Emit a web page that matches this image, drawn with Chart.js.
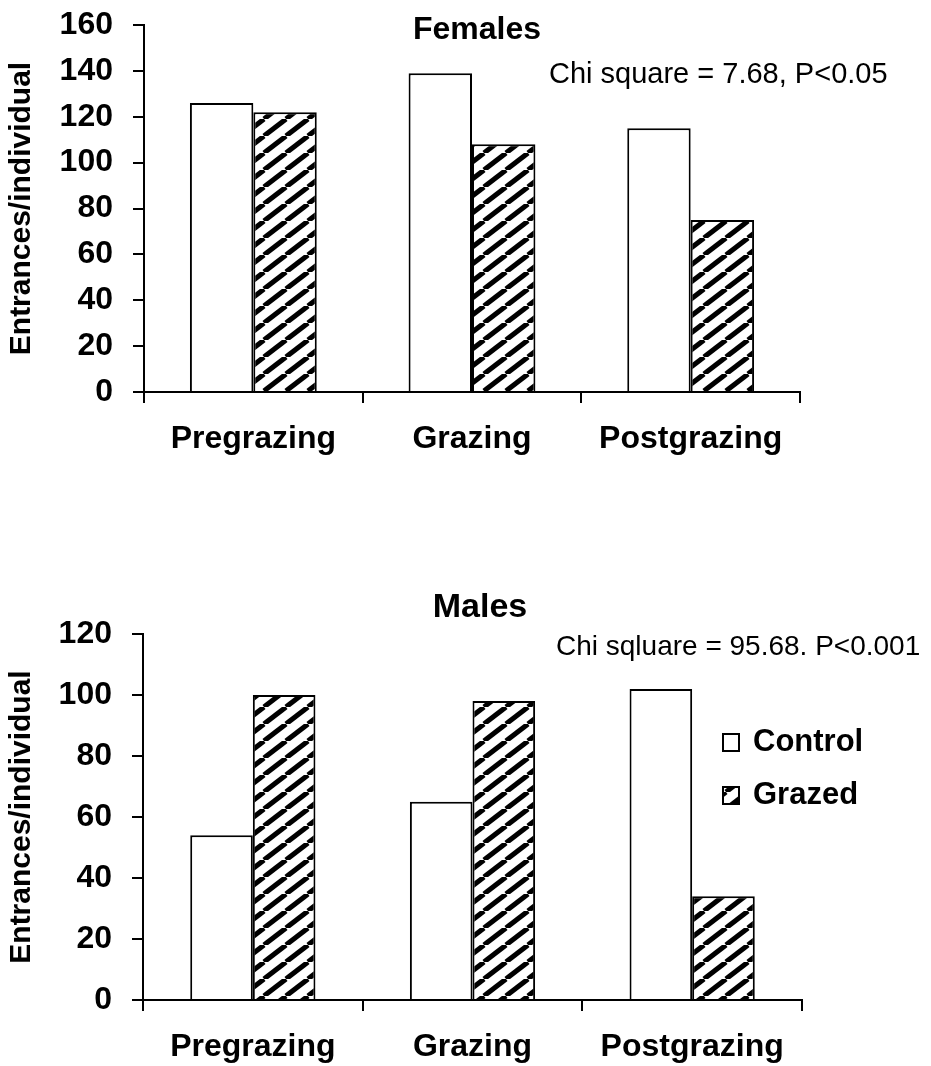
<!DOCTYPE html>
<html>
<head>
<meta charset="utf-8">
<title>Entrances per individual</title>
<script src="https://cdn.jsdelivr.net/npm/chart.js@4.4.1/dist/chart.umd.min.js"></script>
<style>
  html, body { margin: 0; padding: 0; background: #fff; }
  #wrap { position: relative; width: 931px; height: 1066px; }
  canvas { position: absolute; left: 0; }
</style>
</head>
<body>
<div id="wrap">
  <canvas id="femaleChart" width="931" height="520" style="top:0"></canvas>
  <canvas id="maleChart" width="931" height="546" style="top:520px"></canvas>
</div>
<script>
// data
const periods = ['Pregrazing', 'Grazing', 'Postgrazing'];
const seriesNames = ['Control', 'Grazed'];
const femaleControl = [126, 139, 115];
const femaleGrazed = [122, 108, 75];
const maleControl = [54, 65, 102];
const maleGrazed = [100, 98, 34];
const femaleAxisMax = 160;
const maleAxisMax = 120;
const tickStep = 20;
const yTitle = 'Entrances/individual';
const femaleTitle = 'Females';
const femaleStat = 'Chi square = 7.68, P<0.05';
const maleTitle = 'Males';
const maleStat = 'Chi sqluare = 95.68. P<0.001';

const FONT = '"Liberation Sans", Arial, sans-serif';
Chart.defaults.font.family = FONT;
Chart.defaults.color = '#000';

// diagonal hatch for the grazed bars
function makeHatch() {
    const w = 22, h = 17;
    const tile = document.createElement('canvas');
    tile.width = w;
    tile.height = h;
    const c = tile.getContext('2d');
    c.fillStyle = '#fff';
    c.fillRect(0, 0, w, h);
    c.strokeStyle = '#000';
    c.lineWidth = 5;
    [-w, 0, w].forEach(x0 => {
        c.beginPath();
        c.moveTo(x0, h);
        c.lineTo(x0 + w, 0);
        c.stroke();
    });
    return c.createPattern(tile, 'repeat');
}
const hatch = makeHatch();

// title, chi square note and (optional) legend
const panelText = {
    id: 'panelText',
    afterDraw(chart, args, opts) {
        const ctx = chart.ctx;
        ctx.save();
        ctx.fillStyle = '#000';
        ctx.textBaseline = 'middle';
        ctx.textAlign = 'center';
        ctx.font = 'bold ' + opts.titleSize + 'px ' + FONT;
        ctx.fillText(opts.title, opts.titleX, opts.titleY);
        ctx.textAlign = 'left';
        ctx.font = opts.statSize + 'px ' + FONT;
        ctx.fillText(opts.stat, opts.statX, opts.statY);
        if (opts.legend) {
            ctx.font = 'bold 31px ' + FONT;
            chart.data.datasets.forEach((ds, i) => {
                const y = opts.legendY + i * 53;
                ctx.fillStyle = ds.backgroundColor;
                ctx.fillRect(opts.legendX, y - 8, 16, 17);
                ctx.strokeStyle = '#000';
                ctx.lineWidth = 2;
                ctx.strokeRect(opts.legendX, y - 8, 16, 17);
                ctx.fillStyle = '#000';
                ctx.fillText(ds.label, opts.legendX + 30, y);
            });
        }
        ctx.restore();
    }
};

function makeChart(id, control, grazed, yMax, area, text) {
    const ctx = document.getElementById(id).getContext('2d');
    return new Chart(ctx, {
        type: 'bar',
        data: {
            labels: periods,
            datasets: [
                { label: seriesNames[0], data: control, backgroundColor: '#fff' },
                { label: seriesNames[1], data: grazed, backgroundColor: hatch }
            ]
        },
        options: {
            responsive: false,
            animation: false,
            devicePixelRatio: 1,
            layout: { padding: { top: area.top, right: area.right, left: 0, bottom: 0 } },
            datasets: {
                bar: {
                    borderColor: '#000',
                    borderWidth: 2,
                    categoryPercentage: area.catPct,
                    barPercentage: 1.0
                }
            },
            plugins: {
                legend: { display: false },
                tooltip: { enabled: false },
                panelText: text
            },
            scales: {
                x: {
                    grid: { drawOnChartArea: false, tickLength: 11, color: '#000', lineWidth: 2, offset: true },
                    border: { color: '#000', width: 2 },
                    ticks: { font: { size: 32, weight: 'bold' }, padding: 17, maxRotation: 0, autoSkip: false },
                    afterFit(scale) { scale.height = area.xHeight; }
                },
                y: {
                    min: 0,
                    max: yMax,
                    grid: { drawOnChartArea: false, tickLength: 11, color: '#000', lineWidth: 2 },
                    border: { color: '#000', width: 2 },
                    ticks: { stepSize: tickStep, font: { size: 32, weight: 'bold' }, padding: 20 },
                    title: { display: true, text: yTitle, font: { size: 30, weight: 'bold' }, padding: { top: 4, bottom: 0 } },
                    afterFit(scale) {
                        scale.width = area.yWidth;
                        scale.paddingTop = 0;
                        scale.paddingBottom = 0;
                    }
                }
            }
        },
        plugins: [panelText]
    });
}

makeChart('femaleChart', femaleControl, femaleGrazed, femaleAxisMax,
    { top: 25, right: 131, xHeight: 128, yWidth: 144, catPct: 0.58 },
    { title: femaleTitle, titleSize: 32, titleX: 477, titleY: 30, stat: femaleStat, statSize: 29, statX: 549, statY: 75, legend: false });

makeChart('maleChart', maleControl, maleGrazed, maleAxisMax,
    { top: 114, right: 129, xHeight: 66, yWidth: 143, catPct: 0.57 },
    { title: maleTitle, titleSize: 34, titleX: 480, titleY: 88, stat: maleStat, statSize: 28, statX: 556, statY: 127, legend: true, legendX: 723, legendY: 222 });
</script>
</body>
</html>
